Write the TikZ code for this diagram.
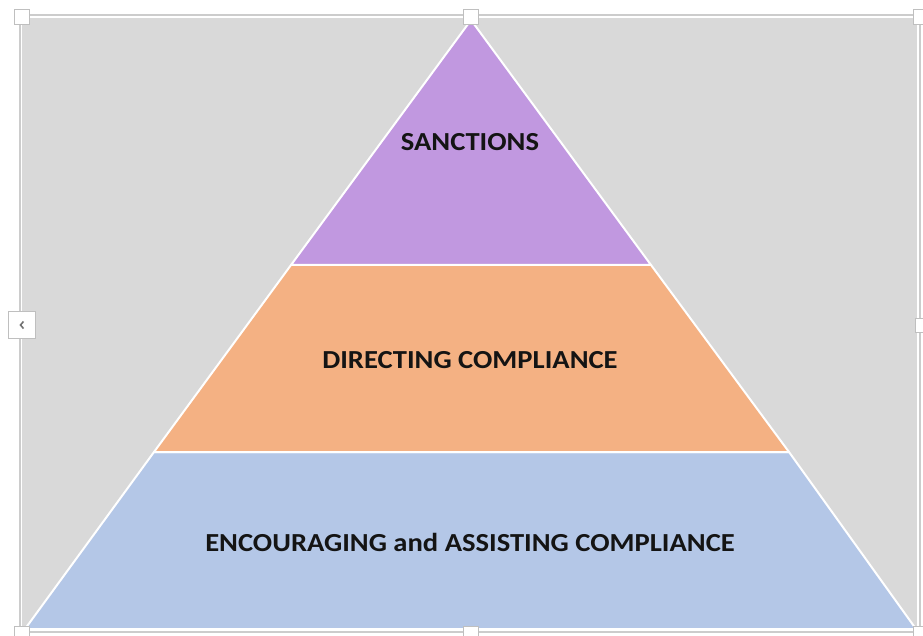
\documentclass[tikz,border=0pt]{standalone}
\usepackage{fontspec}
\setmainfont{Carlito}
\newcommand{\tierfont}[1]{\scalebox{1.1}[1]{\bfseries\fontsize{26}{30}\selectfont #1}}
\begin{document}
\begin{tikzpicture}[x=1pt,y=-1pt,
  tier/.style={draw=white,line width=2pt,line join=round},
  tierlabel/.style={text=black!92,inner sep=0pt},
  frameline/.style={draw=black!20,line width=1.6pt},
  handle/.style={draw=black!25,fill=white,line width=1pt}]
\useasboundingbox (0,0) rectangle (923,636);
% canvas
\fill[white] (0,0) rectangle (923,636);
\fill[black!15] (22,18) rectangle (917,630);
% selection frame
\draw[frameline] (20,15) -- (920,15) -- (920,632) -- (20,632) -- cycle;
% pyramid tiers
\coordinate (apex) at (471,20);
\coordinate (bl) at (25,629);
\coordinate (br) at (916,629);
\coordinate (ml) at (154,452);
\coordinate (mr) at (789,452);
\coordinate (tl) at (291,265);
\coordinate (tr) at (651,265);
\filldraw[tier,fill={rgb,255:red,180;green,199;blue,231}] (ml) -- (mr) -- (br) -- (bl) -- cycle;
\filldraw[tier,fill={rgb,255:red,244;green,177;blue,131}] (tl) -- (tr) -- (mr) -- (ml) -- cycle;
\filldraw[tier,fill={rgb,255:red,193;green,152;blue,224}] (apex) -- (tr) -- (tl) -- cycle;
% labels
\node[tierlabel] (sanctions) at (470,142) {\tierfont{SANCTIONS}};
\node[tierlabel] (directing) at (470,360) {\tierfont{DIRECTING COMPLIANCE}};
\node[tierlabel] (encouraging) at (470,542) {\tierfont{ENCOURAGING and ASSISTING COMPLIANCE}};
% sizing handles
\draw[handle] (14,10) rectangle (29,25);
\draw[handle] (463,10) rectangle (478,25);
\draw[handle] (913,10) rectangle (928,25);
\draw[handle] (14,626) rectangle (29,641);
\draw[handle] (463,626) rectangle (478,641);
\draw[handle] (913,626) rectangle (928,641);
\draw[handle] (915,318) rectangle (930,332);
\draw[handle] (8,311) rectangle (35,338);
\draw[black!55,line width=1.6pt] (23.5,321.5) -- (20.5,325) -- (23.5,328.5);
\end{tikzpicture}
\end{document}
